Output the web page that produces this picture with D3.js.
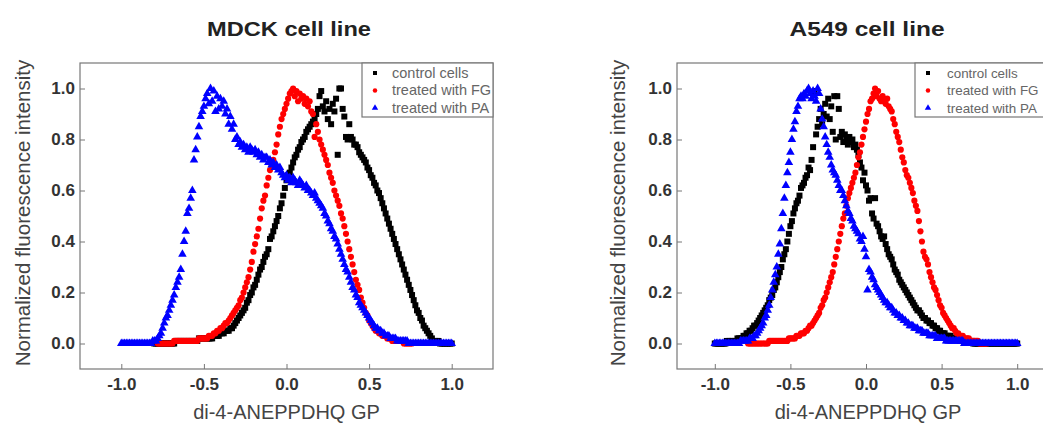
<!DOCTYPE html>
<html>
<head>
<meta charset="utf-8">
<script src="https://cdn.jsdelivr.net/npm/d3@7"></script>
<style>
  body { margin: 0; background: #fff; }
  svg { display: block; }
  text { font-family: "Liberation Sans", Arial, sans-serif; }
</style>
</head>
<body>
<svg id="chart" width="1043" height="427"></svg>
<script>
// GP histogram bin centres, -1.00 .. 1.00 in steps of 0.01
const gpBins = d3.range(-100, 101).map(i => i / 100);

// ---- MDCK cell line (normalized fluorescence intensity per GP bin) ----
const mdckControl = [
  null,null,null,null,null,null,null,null,null,null,
  null,null,null,null,null,null,null,null,null,null,
  0,0,0,0,0,0,0,0,0,0,
  0,0,0,0.01,0.01,0.01,0.01,0.01,0.01,0.01,
  0.01,0.01,0.01,0.01,0.01,0.01,0.01,0.02,0.02,0.02,
  0.02,0.02,0.02,0.02,0.02,0.02,0.03,0.03,0.03,0.03,
  0.04,0.04,0.04,0.05,0.05,0.05,0.06,0.06,0.07,0.08,
  0.09,0.10,0.11,0.12,0.13,0.14,0.16,0.17,0.19,0.20,
  0.22,0.23,0.25,0.27,0.29,0.30,0.32,0.34,0.35,0.37,
  0.41,0.42,0.44,0.46,0.48,0.50,0.53,0.55,0.58,0.61,
  0.64,0.66,0.67,0.69,0.71,0.73,0.74,0.76,0.77,0.79,
  0.80,0.81,0.83,0.84,0.85,0.86,0.87,0.88,0.90,0.92,
  0.97,0.99,0.93,0.91,0.95,0.88,0.92,0.86,0.94,0.91,
  0.96,0.74,1.00,1.00,0.92,0.89,0.81,0.80,0.86,0.81,
  0.80,0.78,0.78,0.77,0.75,0.74,0.73,0.72,0.71,0.69,
  0.68,0.66,0.65,0.63,0.62,0.60,0.59,0.57,0.55,0.53,
  0.51,0.49,0.47,0.45,0.43,0.41,0.39,0.37,0.35,0.33,
  0.31,0.29,0.27,0.25,0.23,0.21,0.19,0.17,0.15,0.13,
  0.12,0.10,0.09,0.07,0.06,0.05,0.04,0.03,0.02,0.01,
  0.01,0.01,0.01,0,0,0,0,0,0,0,
  0
];
const mdckFG = [
  null,null,null,null,null,null,null,null,null,null,
  null,null,null,null,null,null,null,null,null,null,
  null,null,0,0,0,0,0,0,0,0,
  0,0,0.01,0.01,0.01,0.01,0.01,0.01,0.01,0.01,
  0.01,0.01,0.01,0.01,0.01,0.01,0.01,0.02,0.02,0.02,
  0.02,0.02,0.02,0.03,0.03,0.03,0.04,0.04,0.05,0.05,
  0.06,0.06,0.07,0.08,0.08,0.09,0.10,0.11,0.12,0.13,
  0.14,0.15,0.17,0.18,0.20,0.22,0.24,0.26,0.29,0.32,
  0.36,0.39,0.42,0.45,0.49,0.53,0.56,0.58,0.62,0.65,
  0.68,0.70,0.72,0.75,0.78,0.82,0.85,0.88,0.90,0.92,
  0.94,0.96,0.98,0.99,1.00,0.97,0.99,0.95,0.98,0.96,
  0.97,0.94,0.96,0.93,0.95,0.91,0.90,0.81,0.86,0.83,
  0.80,0.78,0.76,0.74,0.72,0.70,0.67,0.65,0.63,0.60,
  0.58,0.56,0.54,0.51,0.49,0.46,0.43,0.40,0.37,0.34,
  0.31,0.28,0.25,0.23,0.21,0.18,0.16,0.14,0.12,0.11,
  0.09,0.08,0.07,0.06,0.05,0.05,0.04,0.04,0.03,0.03,
  0.03,0.02,0.02,0.02,0.01,0.01,0.01,0.01,0.01,0.01,
  0.01,0,0,0,0,0,0,null,null,null,
  null,null,null,null,null,null,null,null,null,null,
  null,null,null,null,null,null,null,null,null,null,
  null
];
const mdckPA = [
  0,0,0,0,0,0,0,0,0,0,
  0,0,0,0,0,0,0,0,0,0.01,
  0.01,0.01,0.02,0.03,0.04,0.06,0.08,0.10,0.11,0.13,
  0.15,0.17,0.19,0.22,0.24,0.26,0.29,0.35,0.40,0.44,
  0.51,0.53,0.57,0.60,0.72,0.76,0.81,0.85,0.89,0.91,
  0.93,0.96,0.98,0.94,1.00,0.95,0.99,0.91,0.97,0.92,
  0.96,0.93,0.95,0.90,0.92,0.86,0.89,0.84,0.86,0.80,
  0.81,0.78,0.79,0.77,0.78,0.76,0.77,0.75,0.77,0.76,
  0.75,0.76,0.74,0.75,0.73,0.74,0.72,0.73,0.73,0.71,
  0.72,0.70,0.71,0.69,0.70,0.68,0.69,0.67,0.66,0.65,
  0.66,0.64,0.65,0.63,0.65,0.64,0.63,0.62,0.64,0.63,
  0.62,0.61,0.62,0.60,0.60,0.59,0.58,0.59,0.57,0.56,
  0.55,0.54,0.53,0.51,0.50,0.48,0.47,0.45,0.44,0.42,
  0.41,0.39,0.37,0.35,0.33,0.31,0.29,0.28,0.26,0.24,
  0.22,0.21,0.19,0.18,0.16,0.15,0.14,0.13,0.12,0.11,
  0.10,0.09,0.08,0.07,0.06,0.06,0.05,0.05,0.04,0.04,
  0.03,0.03,0.03,0.02,0.02,0.02,0.02,0.01,0.01,0.01,
  0.01,0.01,0.01,0.01,0,0,0,0,0,0,
  0,0,0,0,0,0,0,0,0,0,
  0,0,0,0,0,0,0,0,0,0,
  0
];

// ---- A549 cell line ----
const a549Control = [
  0,0,0,0,0,0,0,0,0.01,0.01,
  0.01,0.01,0.01,0.01,0.01,0.02,0.02,0.02,0.02,0.03,
  0.03,0.04,0.04,0.05,0.05,0.06,0.07,0.07,0.08,0.09,
  0.10,0.11,0.12,0.13,0.14,0.15,0.17,0.18,0.19,0.21,
  0.22,0.24,0.26,0.28,0.30,0.33,0.35,0.37,0.40,0.43,
  0.46,0.48,0.51,0.53,0.55,0.56,0.58,0.61,0.62,0.63,
  0.65,0.66,0.69,0.68,0.72,0.77,0.99,0.82,0.85,0.88,
  0.92,0.86,0.90,0.94,0.89,0.96,0.88,0.93,0.83,0.97,
  0.80,0.97,0.92,0.81,0.83,0.79,0.82,0.80,0.78,0.81,
  0.79,0.80,0.77,0.78,0.76,0.74,0.71,0.69,0.64,0.67,
  0.62,0.60,0.56,0.57,0.51,0.49,0.57,0.47,0.46,0.44,
  0.42,0.41,0.42,0.39,0.37,0.35,0.34,0.33,0.31,0.29,
  0.28,0.27,0.25,0.24,0.23,0.22,0.21,0.20,0.19,0.18,
  0.17,0.16,0.15,0.14,0.13,0.13,0.12,0.11,0.10,0.10,
  0.09,0.09,0.08,0.08,0.07,0.07,0.06,0.06,0.05,0.05,
  0.04,0.04,0.04,0.03,0.03,0.03,0.03,0.02,0.02,0.02,
  0.02,0.02,0.01,0.01,0.01,0.01,0.01,0.01,0.01,0.01,
  0.01,0,0,0,0,0,0,0,0,0,
  0,0,0,0,0,0,0,0,0,0,
  0,0,0,0,0,0,0,0,0,0,
  0
];
const a549FG = [
  null,null,null,null,null,null,null,null,null,null,
  null,null,null,null,null,null,null,null,null,null,
  null,null,0,0,0,0,0,0,0,0,
  0,0,0,0,0,0,0.01,0.01,0.01,0.01,
  0.01,0.01,0.01,0.01,0.01,0.01,0.01,0.01,0.01,0.02,
  0.02,0.02,0.02,0.02,0.03,0.03,0.03,0.04,0.04,0.04,
  0.05,0.05,0.06,0.07,0.07,0.08,0.09,0.10,0.11,0.12,
  0.14,0.15,0.17,0.18,0.20,0.22,0.24,0.26,0.28,0.31,
  0.34,0.37,0.40,0.43,0.46,0.49,0.51,0.54,0.57,0.59,
  0.61,0.63,0.65,0.67,0.70,0.73,0.75,0.78,0.81,0.84,
  0.87,0.90,0.92,0.95,0.96,0.98,1.00,0.97,0.99,0.96,
  0.95,0.97,0.95,0.94,0.96,0.93,0.92,0.91,0.88,0.86,
  0.83,0.81,0.79,0.76,0.73,0.71,0.68,0.66,0.65,0.63,
  0.61,0.59,0.56,0.54,0.52,0.48,0.44,0.40,0.36,0.34,
  0.33,0.31,0.28,0.26,0.24,0.22,0.21,0.19,0.17,0.15,
  0.14,0.12,0.11,0.10,0.09,0.08,0.07,0.06,0.06,0.05,
  0.04,0.04,0.03,0.03,0.03,0.02,0.02,0.02,0.02,0.01,
  0.01,0.01,0.01,0.01,0.01,0,0,0,0,0,
  0,null,null,null,null,null,null,null,null,null,
  null,null,null,null,null,null,null,null,null,null,
  null
];
const a549PA = [
  0,0,0,0,0,0,0,0,0,0,
  0,0,0,0,0,0,0,0.01,0.01,0.01,
  0.01,0.01,0.01,0.02,0.02,0.02,0.03,0.03,0.04,0.05,
  0.06,0.07,0.08,0.10,0.11,0.13,0.15,0.18,0.21,0.24,
  0.27,0.30,0.35,0.39,0.45,0.51,0.57,0.62,0.67,0.71,
  0.75,0.80,0.84,0.87,0.91,0.93,0.96,0.97,0.96,0.98,
  0.97,0.99,1.00,0.98,0.96,0.99,0.97,0.95,1.00,0.98,
  0.92,0.88,0.85,0.81,0.78,0.75,0.73,0.70,0.68,0.67,
  0.66,0.64,0.62,0.60,0.60,0.58,0.56,0.54,0.52,0.51,
  0.49,0.48,0.46,0.45,0.44,0.43,0.41,0.40,0.42,0.37,
  0.34,0.21,0.29,0.28,0.26,0.25,0.23,0.22,0.21,0.20,
  0.19,0.18,0.17,0.16,0.16,0.15,0.14,0.14,0.13,0.12,
  0.12,0.11,0.11,0.10,0.10,0.09,0.09,0.08,0.08,0.07,
  0.07,0.07,0.06,0.06,0.06,0.05,0.05,0.05,0.04,0.04,
  0.04,0.04,0.03,0.03,0.03,0.03,0.03,0.02,0.02,0.02,
  0.02,0.02,0.02,0.01,0.01,0.01,0.01,0.01,0.01,0.01,
  0.01,0.01,0.01,0.01,0.01,0,0,0,0,0,
  0,0,0,0,0,0,0,0,0,0,
  0,0,0,0,0,0,0,0,0,0,
  0,0,0,0,0,0,0,0,0,0,
  0
];

const seriesNames = ["control cells", "treated with FG", "treated with PA"];
const panelTitles = ["MDCK cell line", "A549 cell line"];
const xTickValues = [-1.0, -0.5, 0.0, 0.5, 1.0];
const yTickValues = [0.0, 0.2, 0.4, 0.6, 0.8, 1.0];
const xLabel = "di-4-ANEPPDHQ GP";
const yLabel = "Normalized fluorescence intensity";

[mdckControl, mdckFG, mdckPA, a549Control, a549FG, a549PA].forEach((a, k) => {
  if (a.length !== gpBins.length) throw new Error("series " + k + " has " + a.length + " values");
});

// ---- styling / layout ----
const seriesColors = ["#000000", "#ff0000", "#0000ff"];
const seriesSymbols = [d3.symbolSquare, d3.symbolCircle, d3.symbolTriangle];
const symbolSizes = [36, 30, 32];
const legendSymbolSizes = [16, 16, 18];
const xDomain = [-1.25, 1.25];
const yDomain = [-0.1, 1.1];
const frameTop = 63, frameBottom = 369;

const panels = [
  { title: panelTitles[0], series: [mdckControl, mdckFG, mdckPA],
    left: 80, right: 493, titleX: 289, titleW: 164, yLabelX: 23,
    legendLeft: 362, legendRight: 493, legendTextX: 392, legendFont: 14.5 },
  { title: panelTitles[1], series: [a549Control, a549FG, a549PA],
    left: 677, right: 1055, titleX: 867, titleW: 155, yLabelX: 618,
    legendLeft: 915, legendRight: 1060, legendTextX: 947, legendFont: 13.4 }
];

const svg = d3.select("#chart");
const fmt = d => d.toFixed(1);

panels.forEach(p => {
  const x = d3.scaleLinear().domain(xDomain).range([p.left, p.right]);
  const y = d3.scaleLinear().domain(yDomain).range([frameBottom, frameTop]);
  const g = svg.append("g");

  // title
  g.append("text")
    .attr("x", p.titleX - p.titleW / 2).attr("y", 36)
    .attr("textLength", p.titleW).attr("lengthAdjust", "spacingAndGlyphs")
    .attr("font-size", 21).attr("font-weight", "bold").attr("fill", "#222")
    .text(p.title);

  // data points: control, FG, PA (PA drawn on top)
  p.series.forEach((vals, s) => {
    const pts = gpBins.map((gp, i) => ({ gp, v: vals[i] })).filter(d => d.v !== null);
    g.append("g")
      .selectAll("path")
      .data(pts)
      .join("path")
      .attr("d", d3.symbol().type(seriesSymbols[s]).size(symbolSizes[s]))
      .attr("transform", d => `translate(${x(d.gp)},${y(d.v)})`)
      .attr("fill", seriesColors[s]);
  });

  // axes with inward ticks
  const yAxis = g.append("g")
    .attr("transform", `translate(${p.left},0)`)
    .call(d3.axisLeft(y).tickValues(yTickValues).tickFormat(fmt).tickSize(-5).tickPadding(5));
  const xAxis = g.append("g")
    .attr("transform", `translate(0,${frameBottom})`)
    .call(d3.axisBottom(x).tickValues(xTickValues).tickFormat(fmt).tickSize(-5).tickPadding(9));
  [yAxis, xAxis].forEach(ax => {
    ax.select(".domain").remove();
    ax.selectAll(".tick line").attr("stroke", "#777");
    ax.selectAll(".tick text")
      .attr("font-family", "Liberation Sans, Arial, sans-serif")
      .attr("font-size", 17).attr("font-weight", "bold").attr("fill", "#333");
  });

  // plot frame
  g.append("rect")
    .attr("x", p.left).attr("y", frameTop)
    .attr("width", p.right - p.left).attr("height", frameBottom - frameTop)
    .attr("fill", "none").attr("stroke", "#777").attr("stroke-width", 1.2);

  // axis titles
  g.append("text")
    .attr("x", x(0) + (p.left < 500 ? 0 : 2))
    .attr("y", 419)
    .attr("text-anchor", "middle")
    .attr("font-size", 20).attr("fill", "#444")
    .text(xLabel);
  g.append("text")
    .attr("transform", `translate(${p.yLabelX + 7},${(frameTop + frameBottom) / 2 - 3}) rotate(-90)`)
    .attr("text-anchor", "middle")
    .attr("font-size", 20.5).attr("fill", "#444")
    .text(yLabel);

  // legend
  const lg = g.append("g");
  lg.append("rect")
    .attr("x", p.legendLeft).attr("y", frameTop)
    .attr("width", p.legendRight - p.legendLeft).attr("height", 54)
    .attr("fill", "#fff").attr("stroke", "#777").attr("stroke-width", 1.2);
  seriesNames.forEach((name, s) => {
    const cy = frameTop + 10 + s * 17.5;
    lg.append("path")
      .attr("d", d3.symbol().type(seriesSymbols[s]).size(legendSymbolSizes[s]))
      .attr("transform", `translate(${p.legendLeft + 13},${cy})`)
      .attr("fill", seriesColors[s]);
    lg.append("text")
      .attr("x", p.legendTextX).attr("y", cy + 4.5)
      .attr("font-size", p.legendFont).attr("fill", "#666")
      .text(name);
  });
});
</script>
</body>
</html>
